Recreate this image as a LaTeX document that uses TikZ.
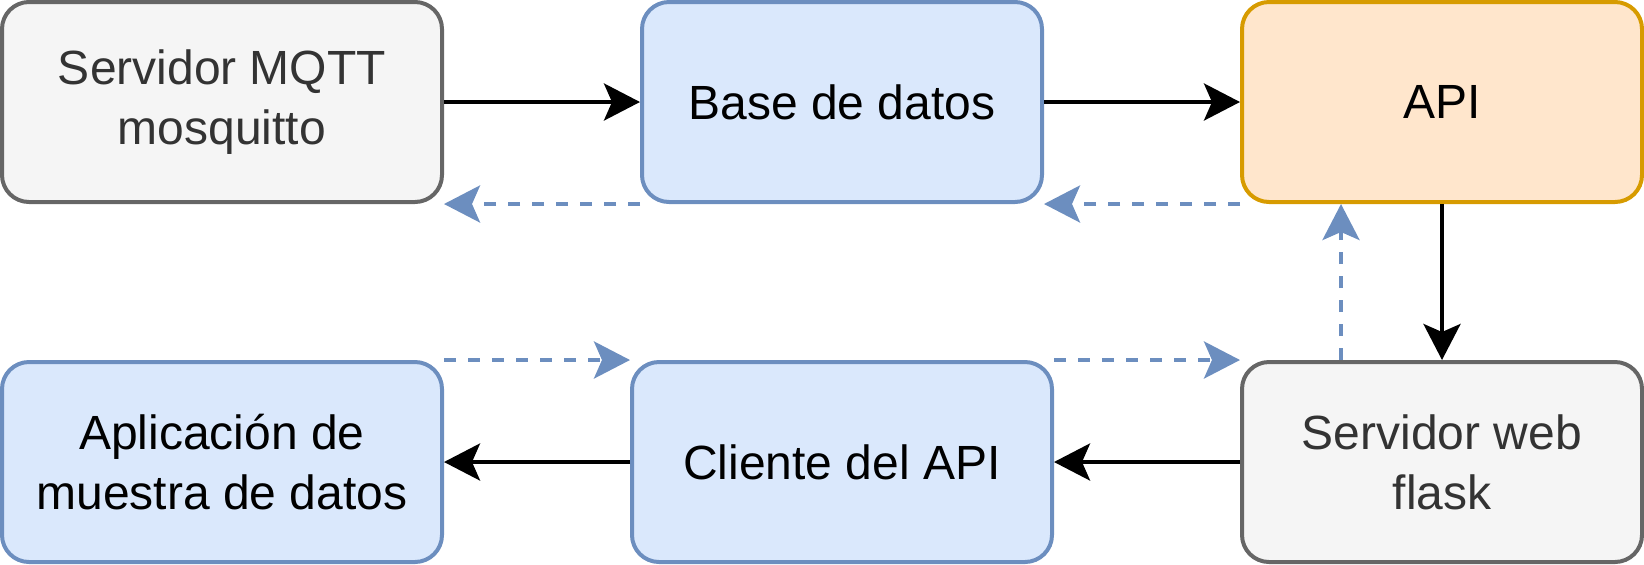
\documentclass[tikz,border=0pt]{standalone}
\usepackage{fontspec}
\setmainfont{Liberation Sans}
\usetikzlibrary{arrows.meta,calc}
\definecolor{grayfill}{HTML}{F5F5F5}
\definecolor{graystroke}{HTML}{666666}
\definecolor{graytext}{HTML}{333333}
\definecolor{bluefill}{HTML}{DAE8FC}
\definecolor{bluestroke}{HTML}{6C8EBF}
\definecolor{orangefill}{HTML}{FFE6CC}
\definecolor{orangestroke}{HTML}{D79B00}
\tikzset{
  box/.style={rectangle, rounded corners=13.5pt, line width=2pt, inner sep=0pt,
    minimum height=100pt, align=center, font=\fontsize{24}{30}\selectfont},
  graybox/.style={box, fill=grayfill, draw=graystroke, text=graytext},
  bluebox/.style={box, fill=bluefill, draw=bluestroke, text=black},
  orangebox/.style={box, fill=orangefill, draw=orangestroke, text=black},
  solidarrow/.style={line width=2pt, draw=black, -{Stealth[length=18pt,width=18.5pt,inset=4pt]}},
  dasharrow/.style={line width=2pt, draw=bluestroke, dash pattern=on 6pt off 6pt,
    -{Stealth[length=18pt,width=18.5pt,inset=4pt,fill=bluestroke]}}
}
\begin{document}
\begin{tikzpicture}[x=0.5pt,y=-0.5pt]
\useasboundingbox (0,0) rectangle (1644,564);
\node[graybox, minimum width=220pt] (mqtt) at (222,102) {Servidor MQTT\\mosquitto};
\node[bluebox, minimum width=200pt] (base) at (842,102) {Base de datos};
\node[orangebox, minimum width=200pt] (api) at (1442,102) {API};
\node[bluebox, minimum width=220pt] (app) at (222,462) {Aplicación de\\muestra de datos};
\node[bluebox, minimum width=210pt] (cli) at (842,462) {Cliente del API};
\node[graybox, minimum width=200pt] (web) at (1442,462) {Servidor web\\flask};
\coordinate (webq) at ($(web.north west)!0.25!(web.north east)$);
\coordinate (apiq) at ($(api.south west)!0.25!(api.south east)$);
\draw[solidarrow] (mqtt.east) -- (base.west);
\draw[solidarrow] (base.east) -- (api.west);
\draw[solidarrow] (api.south) -- (web.north);
\draw[solidarrow] (web.west) -- (cli.east);
\draw[solidarrow] (cli.west) -- (app.east);
\draw[dasharrow] (base.south west) -- (mqtt.south east);
\draw[dasharrow] (api.south west) -- (base.south east);
\draw[dasharrow] (webq) -- (apiq);
\draw[dasharrow] (app.north east) -- (cli.north west);
\draw[dasharrow] (cli.north east) -- (web.north west);
\end{tikzpicture}
\end{document}
